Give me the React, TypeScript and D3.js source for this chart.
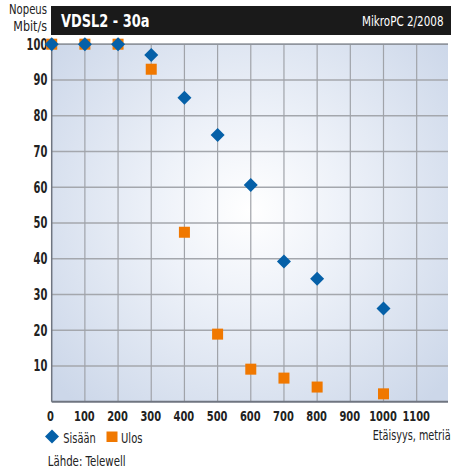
import React from "react";
import * as d3 from "d3";

const distances = [0, 100, 200, 300, 400, 500, 600, 700, 800, 1000];
const sisaan = [100, 100, 100, 97, 85, 74.6, 60.6, 39.2, 34.4, 26.1];
const ulos = [100, 100, 100, 93, 47.4, 18.9, 9.1, 6.6, 4.1, 2.2];
const xTicks = [0, 100, 200, 300, 400, 500, 600, 700, 800, 900, 1000, 1100];
const yTicks = [10, 20, 30, 40, 50, 60, 70, 80, 90, 100];
const xGrid = [100, 200, 300, 400, 500, 600, 700, 800, 900, 1000, 1100];

const FONT = "'DejaVu Sans Condensed', 'Liberation Sans Narrow', sans-serif";

function T(props: any) {
  const { w, children, ...rest } = props;
  return (
    <text {...rest} textLength={w} lengthAdjust="spacingAndGlyphs">{children}</text>
  );
}

export default function App() {
  const W = 451, H = 472;
  const left = 51.7, right = 448, top = 44.2, bottom = 401.7;
  const x = d3.scaleLinear().domain([0, 1100]).range([left, left + 1100 * 0.3318]);
  const y = d3.scaleLinear().domain([0, 100]).range([bottom, top]);
  const blue = "#0560a8";
  const orange = "#f07800";
  const diamond = d3.symbol().type(d3.symbolSquare).size(98)();
  const digitW = 6.9;
  return (
    <svg width={W} height={H} style={{ position: "fixed", left: 0, top: 0, background: "#fff" }} fontFamily={FONT}>
      <defs>
        <radialGradient id="bg" cx="250" cy="210" r="260" gradientUnits="userSpaceOnUse">
          <stop offset="0" stopColor="#ffffff" />
          <stop offset="0.35" stopColor="#eef2f9" />
          <stop offset="1" stopColor="#ccd7e9" />
        </radialGradient>
      </defs>
      {/* title bar */}
      <rect x={51} y={6} width={W - 51} height={29} fill="#1a1a1a" />
      <T x={61} y={27} w={88.5} fill="#fff" fontSize={18} fontWeight="bold">VDSL2 - 30a</T>
      <T x={362} y={26} w={81.5} fill="#fff" fontSize={13.5}>MikroPC 2/2008</T>
      <T x={9} y={14} w={38} fontSize={13.5} fill="#222">Nopeus</T>
      <T x={13.3} y={31} w={33.7} fontSize={13.5} fill="#222">Mbit/s</T>

      {/* plot */}
      <rect x={left} y={top} width={right - left} height={bottom - top} fill="url(#bg)" />
      {yTicks.map((t) => (
        <line key={"h" + t} x1={left} x2={right} y1={y(t)} y2={y(t)} stroke="#a4a7ad" strokeWidth={1.4} />
      ))}
      {xGrid.map((t) => (
        <line key={"v" + t} x1={x(t)} x2={x(t)} y1={top} y2={bottom} stroke="#a0a3a9" strokeWidth={1.2} />
      ))}
      <line x1={left} x2={left} y1={top} y2={bottom} stroke="#6f7580" strokeWidth={1.5} />
      <line x1={left} x2={right} y1={bottom} y2={bottom} stroke="#6f7580" strokeWidth={2} />
      <line x1={left} x2={right} y1={top} y2={top} stroke="#8a8f98" strokeWidth={1.2} />

      {/* ticks */}
      {yTicks.map((t) => (
        <T key={"yt" + t} x={47.3 - String(t).length * digitW} y={y(t)} dy="0.36em" w={String(t).length * digitW} fontSize={15} fontWeight="bold" fill="#222">{t}</T>
      ))}
      {xTicks.map((t) => {
        const w = String(t).length * digitW;
        const cx = t === 0 ? x(t) - 1.3 : x(t) - 0.5;
        return (
          <T key={"xt" + t} x={cx - w / 2} y={421} w={w} fontSize={14.5} fontWeight="bold" fill="#222">{t}</T>
        );
      })}

      {/* data */}
      {distances.map((d, i) => (
        <rect key={"u" + i} x={x(d) - 5.5} y={y(ulos[i]) - 5.5} width={11} height={11} fill={orange} />
      ))}
      {distances.map((d, i) => (
        <path key={"s" + i} d={diamond} transform={`translate(${x(d)},${y(sisaan[i])}) rotate(45)`} fill={blue} />
      ))}

      {/* legend */}
      <path d={diamond} transform="translate(52,436.5) rotate(45)" fill={blue} />
      <T x={63.3} y={443} w={32.4} fontSize={14} fill="#222">Sisään</T>
      <rect x={106.5} y={431.5} width={11} height={10.5} fill={orange} />
      <T x={121} y={443} w={21.5} fontSize={14} fill="#222">Ulos</T>
      <T x={372.7} y={440} w={78} fontSize={13.5} fill="#222">Etäisyys, metriä</T>
      <T x={47.7} y={466} w={78} fontSize={13.5} fill="#222">Lähde: Telewell</T>
    </svg>
  );
}
